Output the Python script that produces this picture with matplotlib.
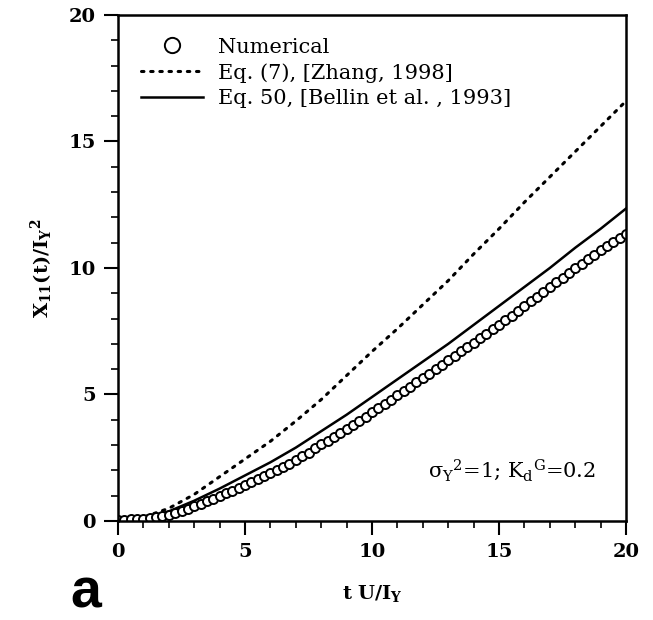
import matplotlib
matplotlib.use("Agg")
import matplotlib.pyplot as plt
from matplotlib.lines import Line2D
from matplotlib.ticker import MultipleLocator

plt.rcParams["font.family"] = ["DejaVu Serif"]
plt.rcParams["mathtext.fontset"] = "dejavuserif"

# numerical results, read every 0.25 in t U/I_Y
t_num = [i * 0.25 for i in range(81)]
x11_num = [
    0.05, 0.05, 0.06, 0.07, 0.08, 0.10, 0.14, 0.19, 0.25, 0.32,
    0.40, 0.49, 0.58, 0.68, 0.78, 0.88, 0.98, 1.09, 1.20, 1.31,
    1.42, 1.53, 1.65, 1.76, 1.88, 2.01, 2.14, 2.27, 2.40, 2.55,
    2.70, 2.87, 3.03, 3.18, 3.33, 3.49, 3.65, 3.81, 3.97, 4.13,
    4.29, 4.46, 4.63, 4.80, 4.97, 5.14, 5.31, 5.48, 5.65, 5.82,
    6.00, 6.17, 6.35, 6.53, 6.70, 6.88, 7.05, 7.23, 7.40, 7.58,
    7.75, 7.94, 8.12, 8.31, 8.50, 8.69, 8.87, 9.06, 9.25, 9.44,
    9.62, 9.81, 10.00, 10.17, 10.35, 10.52, 10.70, 10.86, 11.02, 11.19,
    11.35,
]

# analytical curves, read at integer t U/I_Y
t_eq = list(range(21))
x11_zhang = [0.03, 0.15, 0.50, 1.05, 1.75, 2.45, 3.15, 3.95, 4.80, 5.75,
             6.70, 7.60, 8.55, 9.50, 10.55, 11.55, 12.60, 13.60, 14.60, 15.60, 16.60]
x11_bellin = [0.02, 0.12, 0.38, 0.80, 1.28, 1.80, 2.32, 2.90, 3.55, 4.20,
              4.90, 5.60, 6.30, 7.00, 7.75, 8.50, 9.25, 10.00, 10.80, 11.55, 12.35]

labels = ["Numerical", "Eq. (7), [Zhang, 1998]", "Eq. 50, [Bellin et al. , 1993]"]

fig = plt.figure(figsize=(6.53, 6.2), dpi=100)
ax = fig.add_axes([0.1807, 0.1597, 0.778, 0.8161])

ax.plot(t_eq, x11_zhang, color="black", lw=2.2, linestyle=(0, (0.8, 2.2)),
        dash_capstyle="round")
ax.plot(t_eq, x11_bellin, color="black", lw=1.8)
ax.plot(t_num, x11_num, "o", ms=6.5, mfc="white", mec="black", mew=1.4)

ax.set_xlim(0, 20)
ax.set_ylim(0, 20)
ax.xaxis.set_major_locator(MultipleLocator(5))
ax.yaxis.set_major_locator(MultipleLocator(5))
ax.xaxis.set_minor_locator(MultipleLocator(1))
ax.yaxis.set_minor_locator(MultipleLocator(1))
ax.tick_params(which="major", direction="out", length=10, width=1.5, pad=6,
               labelsize=14)
ax.tick_params(which="minor", direction="out", length=5, width=1.2)
for lab in ax.get_xticklabels() + ax.get_yticklabels():
    lab.set_fontweight("bold")
for sp in ax.spines.values():
    sp.set_linewidth(1.8)

ax.set_xlabel(r"$\mathbf{t\ U/I_Y}$", fontsize=14, labelpad=16)
ax.set_ylabel(r"$\mathbf{X_{11}(t)/I_Y{}^{2}}$", fontsize=14, labelpad=10)

ax.text(12.2, 2.0, r"σ$_\mathrm{Y}{}^{2}$=1; K$_\mathrm{d}{}^\mathrm{G}$=0.2",
        fontsize=15, ha="left", va="center")

handles = [
    Line2D([], [], ls="none", marker="o", ms=11, mfc="white", mec="black", mew=1.4),
    Line2D([], [], color="black", lw=2.2, linestyle=(0, (0.8, 2.2)),
           dash_capstyle="round"),
    Line2D([], [], color="black", lw=1.8),
]
ax.legend(handles, labels, loc="upper left", frameon=False, fontsize=15,
          handlelength=3.0, handletextpad=0.7, labelspacing=0.3,
          borderaxespad=0.2, bbox_to_anchor=(0.02, 0.98))

fig.text(0.108, 0.02, "a", fontsize=40, fontweight="bold",
         family="Liberation Sans", ha="left", va="baseline")

fig.savefig("out.png", dpi=100)
